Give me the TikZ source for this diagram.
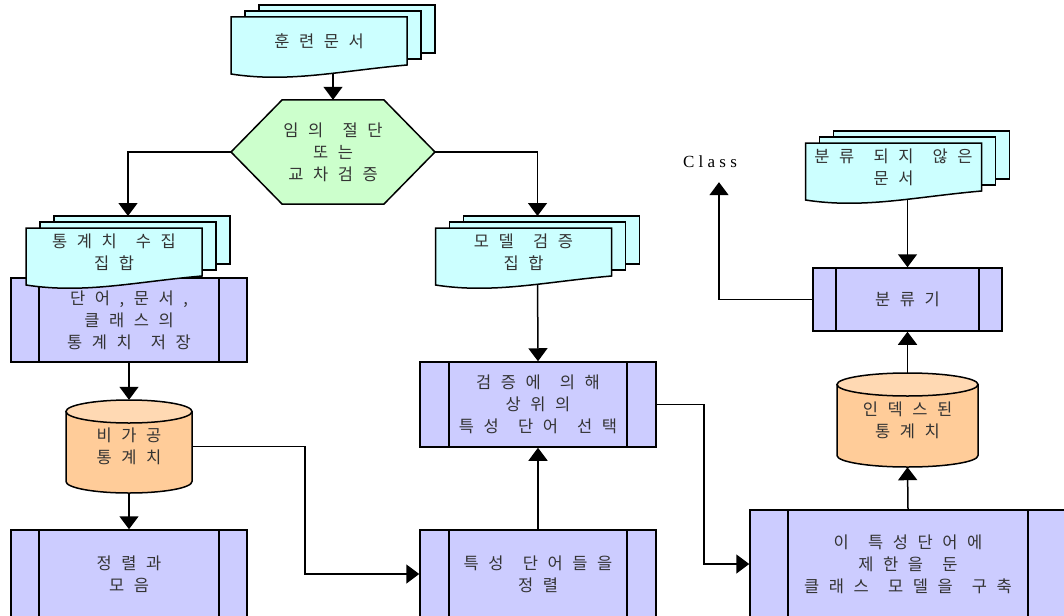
\documentclass[tikz,border=0pt]{standalone}
\usepackage{fontspec}
\usepackage{xcolor}
\usetikzlibrary{arrows.meta,backgrounds}

\newfontfamily\krfont[LetterSpace=58,WordSpace=1.45]{Noto Sans CJK KR}
\newfontfamily\clsfont[LetterSpace=25]{Liberation Serif}

\definecolor{docc}{HTML}{CCFFFF}
\definecolor{hexc}{HTML}{CCFFCC}
\definecolor{procc}{HTML}{CCCCFF}
\definecolor{cylc}{HTML}{FFCC99}
\definecolor{cyltopc}{HTML}{FFD9B3}
\definecolor{txtc}{HTML}{333333}

% a stack of three documents: name, x, y, text
\newcommand{\docstack}[4]{%
\filldraw[docpaper] (#2-60,#3-36) rectangle ++(176,48);
\filldraw[docpaper] (#2-74,#3-30) rectangle ++(176,48);
\filldraw[docpaper] (#2-88,#3-24) -- (#2+88,#3-24) -- (#2+88,#3+24)
  .. controls (#2+20,#3+30) and (#2-30,#3+42) .. (#2-88,#3+33) -- cycle;
\coordinate (#1-in) at (#2+14,#3-36);
\coordinate (#1-out) at (#2+14,#3+24);
\node[doctext] (#1) at (#2,#3) {#4};
}

\tikzset{
  kr/.style={font=\krfont\fontsize{16.5}{22}\selectfont, text=txtc, align=center},
  docpaper/.style={draw, line width=1.5pt, fill=docc},
  doctext/.style={kr, inner sep=0pt, minimum width=176pt, minimum height=48pt},
  proc/.style={kr, draw, line width=1.5pt, fill=procc, inner sep=0pt,
    path picture={\draw[line width=1.5pt]
      ([xshift=#1]path picture bounding box.north west) -- ([xshift=#1]path picture bounding box.south west)
      ([xshift=-#1]path picture bounding box.north east) -- ([xshift=-#1]path picture bounding box.south east);}},
  store/.style={kr, inner sep=0pt},
  arr/.style={-{Triangle[width=19pt,length=13pt]}, line width=1.5pt}
}

\begin{document}
\begin{tikzpicture}[x=1pt,y=-1pt]
\useasboundingbox (0,0) rectangle (1064,615);

% documents and decision
\docstack{train}{319}{41}{훈련문서}
\filldraw[line width=1.5pt, fill=hexc] (231,152) -- (282,100) -- (384,100) -- (435,152) -- (384,204) -- (282,204) -- cycle;
\node[kr, minimum width=204pt, minimum height=104pt, inner sep=0pt] (hex) at (333,152) {임의 절단\\또는\\교차검증};

% left column
\node[proc=28pt, minimum width=236pt, minimum height=84pt] (store) at (129,320) {단어,문서,\\클래스의\\통계치 저장};
\docstack{stats}{114}{252}{통계치 수집\\집합}
\filldraw[line width=1.5pt, fill=cylc] (66,411.5) -- (66,481.5) arc[start angle=180, end angle=0, x radius=63, y radius=11.5] -- (192,411.5) -- cycle;
\filldraw[line width=1.5pt, fill=cyltopc] (129,411.5) ellipse [x radius=63, y radius=11.5];
\node[store, minimum width=126pt, minimum height=93pt] (raw) at (129,446.5) {비가공\\통계치};
\node[proc=28pt, minimum width=236pt, minimum height=88pt] (sort) at (129,574) {정렬과\\모음};

% middle column
\docstack{model}{523.5}{252}{모델 검증\\집합}
\node[proc=29pt, minimum width=236pt, minimum height=85pt] (select) at (538,404.5) {검증에 의해\\상위의\\특성 단어 선택};
\node[proc=29pt, minimum width=236pt, minimum height=88pt] (feat) at (538,574) {특성 단어들을\\정렬};

% right column
\docstack{unclass}{893.5}{167}{분류 되지 않은\\문서}
\node[proc=23pt, minimum width=189pt, minimum height=63pt] (classifier) at (907.5,299.5) {분류기};
\filldraw[line width=1.5pt, fill=cylc] (837,384.5) -- (837,455.5) arc[start angle=180, end angle=0, x radius=70.5, y radius=11.5] -- (978,384.5) -- cycle;
\filldraw[line width=1.5pt, fill=cyltopc] (907.5,384.5) ellipse [x radius=70.5, y radius=11.5];
\node[store, minimum width=141pt, minimum height=94pt] (indexed) at (907.5,420) {인덱스된\\통계치};
\node[proc=38pt, minimum width=316pt, minimum height=108pt] (build) at (908,564) {이 특성단어에\\제한을 둔\\클래스 모델을 구축};
\node[font=\clsfont\fontsize{17}{18}\selectfont, inner sep=0pt] (cls) at (710,162) {Class};

% connectors
\begin{scope}[on background layer]
\draw[arr] (train-out) -- (hex.north);
\draw[arr] (hex.west) -| (stats-in);
\draw[arr] (hex.east) -| (model-in);
\draw[arr] (model-out) -- (select.north);
\draw[arr] (store.south) -- (raw.north);
\draw[arr] (raw.south) -- (sort.north);
\draw[arr] (raw.east) -- ++(113,0) |- (feat.west);
\draw[arr] (feat.north) -- (select.south);
\draw[arr] (select.east) -- ++(47,0) |- (build.west);
\draw[arr] (build.north) -- (indexed.south);
\draw[arr] (indexed.north) -- (classifier.south);
\draw[arr] (unclass-out) -- (classifier.north);
\draw[arr] (classifier.west) -| ([xshift=9pt,yshift=-14pt]cls.south);
\end{scope}
\end{tikzpicture}
\end{document}
